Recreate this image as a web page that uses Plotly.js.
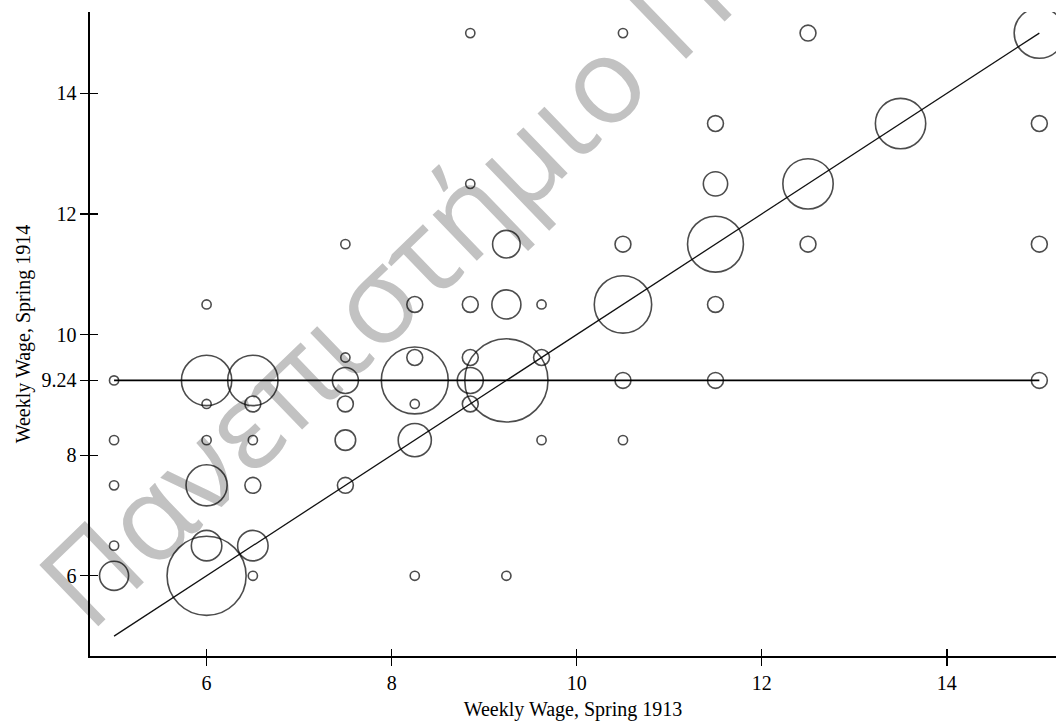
<!DOCTYPE html>
<html>
<head>
<meta charset="utf-8">
<script src="https://cdn.plot.ly/plotly-3.0.1.min.js"></script>
<style>html,body{margin:0;padding:0;background:#fff;}#chart{width:1056px;height:725px;}</style>
</head>
<body>
<div id="chart"></div>
<script>
// Weekly wage in spring 1913 (x) and spring 1914 (y), with number of workers at each pair
const wage1913 = [8.85,10.5,12.5,15, 11.5,13.5,15, 8.85,11.5,12.5, 7.5,9.24,10.5,11.5,12.5,15,
  6,8.25,8.85,9.24,9.62,10.5,11.5, 7.5,8.25,8.85,9.62, 5,6,6.5,7.5,8.25,8.85,9.24,10.5,11.5,15,
  6,6.5,7.5,8.25,8.85, 5,6,6.5,7.5,8.25,9.62,10.5, 5,6,6.5,7.5, 5,6,6.5, 5,6,6.5,8.25,9.24];
const wage1914 = [15,15,15,15, 13.5,13.5,13.5, 12.5,12.5,12.5, 11.5,11.5,11.5,11.5,11.5,11.5,
  10.5,10.5,10.5,10.5,10.5,10.5,10.5, 9.62,9.62,9.62,9.62, 9.24,9.24,9.24,9.24,9.24,9.24,9.24,9.24,9.24,9.24,
  8.85,8.85,8.85,8.85,8.85, 8.25,8.25,8.25,8.25,8.25,8.25,8.25, 7.5,7.5,7.5,7.5, 6.5,6.5,6.5, 6,6,6,6,6];
const workers = [1,1,3,30, 3,30,3, 1,7,30, 1,9,3,37,3,3,
  1,3,3,10,1,39,3, 1,3,3,3, 1,30,30,8,53,8,82,3,3,3,
  1,3,3,1,3, 1,1,1,5,13,1,1, 1,20,3,3, 1,11,11, 10,74,1,1,1];
const meanWage1914 = 9.24;
const xTicks = [6, 8, 10, 12, 14];
const yTicks = [6, 8, 9.24, 10, 12, 14];
const yTickLabels = ['6', '8', '9.24', '10', '12', '14'];
const xTitle = 'Weekly Wage, Spring 1913';
const yTitle = 'Weekly Wage, Spring 1914';
const watermark = 'Πανεπιστήμιο Πατρών';

const lo = Math.min(...wage1913), hi = Math.max(...wage1913);
const serif = 'Liberation Serif, Times New Roman, serif';

const traces = [
  {x: [lo, hi], y: [lo, hi], mode: 'lines', line: {color: '#111', width: 1.3}, hoverinfo: 'skip', showlegend: false},
  {x: [lo, hi], y: [meanWage1914, meanWage1914], mode: 'lines', line: {color: '#000', width: 1.7}, hoverinfo: 'skip', showlegend: false},
  {x: wage1913, y: wage1914, mode: 'markers', showlegend: false,
   marker: {symbol: 'circle-open', color: '#000', size: workers, sizemode: 'area', sizeref: 1/42.25, line: {width: 1.6}}},
  {x: [null], y: [null], xaxis: 'x2', yaxis: 'y2', mode: 'markers', showlegend: false, hoverinfo: 'skip'}
];

const xr = [4.74, 15.18], yr = [4.67, 15.35];
const layout = {
  width: 1056, height: 725,
  margin: {l: 90, r: 0, t: 12, b: 69},
  paper_bgcolor: '#fff', plot_bgcolor: '#fff',
  font: {family: serif, color: '#000', size: 20},
  showlegend: false,
  xaxis: {range: xr, tickvals: xTicks, ticktext: xTicks.map(String), showgrid: false, zeroline: false,
    showline: true, linecolor: '#000', linewidth: 1.6, ticks: 'outside', ticklen: 8, tickwidth: 1.4, tickcolor: '#000',
    tickfont: {family: serif, size: 20, color: '#000'},
    title: {text: xTitle, font: {family: serif, size: 20, color: '#000'}, standoff: 9}},
  yaxis: {range: yr, tickvals: yTicks, ticktext: yTickLabels, showgrid: false, zeroline: false,
    showline: true, linecolor: '#000', linewidth: 1.6, ticks: 'outside', ticklen: 8, tickwidth: 1.4, tickcolor: '#000',
    tickfont: {family: serif, size: 20, color: '#000'},
    title: {text: yTitle, font: {family: serif, size: 20, color: '#000'}, standoff: 5}},
  xaxis2: {range: xr, overlaying: 'x', anchor: 'y', side: 'bottom', tickvals: xTicks, showticklabels: false,
    ticks: 'inside', ticklen: 7, tickwidth: 1.4, tickcolor: '#000', showgrid: false, zeroline: false, showline: false},
  yaxis2: {range: yr, overlaying: 'y', anchor: 'x', side: 'left', tickvals: yTicks, showticklabels: false,
    ticks: 'inside', ticklen: 8, tickwidth: 1.4, tickcolor: '#000', showgrid: false, zeroline: false, showline: false},
  shapes: [{
    type: 'rect', xref: 'paper', yref: 'paper', x0: 0.409, x1: 0.475, y0: 0.731, y1: 0.781,
    layer: 'below', line: {width: 0, color: 'rgba(0,0,0,0)'}, fillcolor: 'rgba(0,0,0,0)',
    label: {text: watermark, textangle: -44, textposition: 'middle center',
      font: {family: 'Open Sans, sans-serif', size: 119, color: 'rgb(194,194,194)'}}
  }]
};

Plotly.newPlot('chart', traces, layout, {staticPlot: true, displayModeBar: false});
</script>
</body>
</html>
